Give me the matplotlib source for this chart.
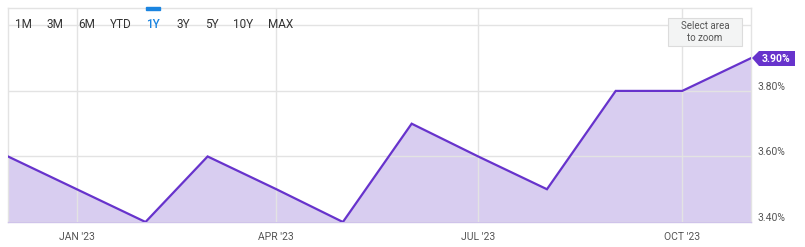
import numpy as np
import pandas as pd
import matplotlib
matplotlib.use('Agg')
import matplotlib.pyplot as plt
import matplotlib.dates as mdates
import matplotlib.transforms as mtransforms
from matplotlib.patches import Polygon, FancyBboxPatch

plt.rcParams['font.family'] = ['Roboto', 'DejaVu Sans']

# data: monthly values
months = ['2022-12-01', '2023-01-01', '2023-02-01', '2023-03-01', '2023-04-01', '2023-05-01',
          '2023-06-01', '2023-07-01', '2023-08-01', '2023-09-01', '2023-10-01', '2023-11-01']
rate = [3.60, 3.50, 3.40, 3.60, 3.50, 3.40, 3.70, 3.60, 3.50, 3.80, 3.80, 3.90]
tick_dates = ['2023-01-01', '2023-04-01', '2023-07-01', '2023-10-01']
tick_labels = ["JAN '23", "APR '23", "JUL '23", "OCT '23"]
y_ticks = [3.40, 3.60, 3.80, 4.00]
y_labels = ['3.40%', '3.60%', '3.80%', '']
buttons = ['1M', '3M', '6M', 'YTD', '1Y', '3Y', '5Y', '10Y', 'MAX']
active = '1Y'

dates = pd.to_datetime(months)
W, H = 805, 247
fig = plt.figure(figsize=(W / 100, H / 100), dpi=100)
ax = fig.add_axes([8 / W, (H - 222) / H, (751 - 8) / W, (222 - 8) / H])

line_c = '#6733cc'
fill_c = '#d8cdf0'
grid_c = '#e3e3e3'

ax.fill_between(dates, rate, 3.0, color=fill_c, lw=0, zorder=1)
ax.plot(dates, rate, color=line_c, lw=1.6, zorder=3, solid_joinstyle='miter')

ax.set_xlim(dates[0], dates[-1])
ax.set_ylim(3.40, 4.053)

ax.set_xticks(pd.to_datetime(tick_dates))
ax.set_xticklabels(tick_labels)
ax.set_yticks(y_ticks)
ax.set_yticklabels(y_labels)
ax.yaxis.tick_right()
ax.tick_params(axis='both', length=0, labelsize=7.5, colors='#555555')
ax.tick_params(axis='x', pad=7)
ax.tick_params(axis='y', pad=5)
off = mtransforms.ScaledTranslation(0, 5 / 100, fig.dpi_scale_trans)
for lab in ax.get_yticklabels():
    lab.set_transform(lab.get_transform() + off)

ax.grid(True, color=grid_c, lw=1, zorder=2)
ax.set_axisbelow(False)
for s in ax.spines.values():
    s.set_color(grid_c)
    s.set_linewidth(1)
ax.spines['bottom'].set_color('#cfc3ea')

# range buttons
bx = [23, 55, 87, 121, 153, 183, 212, 243, 281]
for b, x in zip(buttons, bx):
    fig.text(x / W, 1 - 24 / H, b, ha='center', va='center', fontsize=8.5,
             color='#1a84e0' if b == active else '#333333', weight='medium' if b == active else 'normal')
    if b == active:
        fig.patches.append(matplotlib.patches.Rectangle(((x - 7) / W, 1 - 10 / H), 14 / W, 2.5 / H,
                                                        transform=fig.transFigure, color='#1a84e0'))

# select area box
fig.patches.append(FancyBboxPatch((668 / W, 1 - 46 / H), 74 / W, 28 / H, boxstyle='square,pad=0',
                                  transform=fig.transFigure, fc='#f3f4f4', ec='#dcdcdc', lw=0.8, zorder=5))
fig.text(705 / W, 1 - 32 / H, 'Select area\nto zoom', ha='center', va='center', fontsize=7,
         color='#555555', linespacing=1.25, zorder=6)

# last value label
yl = 58
poly = Polygon([(752 / W, 1 - yl / H), (759 / W, 1 - 51 / H), (795 / W, 1 - 51 / H),
                (795 / W, 1 - 66 / H), (759 / W, 1 - 66 / H)], closed=True,
               transform=fig.transFigure, fc=line_c, ec='none', zorder=6)
fig.patches.append(poly)
fig.text(776 / W, 1 - 58.5 / H, '%.2f%%' % rate[-1], ha='center', va='center', fontsize=7.5,
         color='white', weight='bold', zorder=7)

fig.savefig('out.png', dpi=100)
